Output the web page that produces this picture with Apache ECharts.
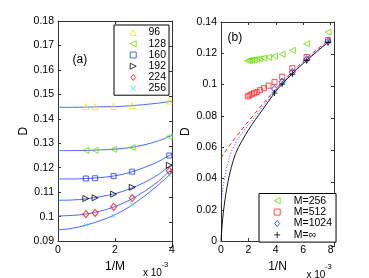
<!DOCTYPE html>
<html><head><meta charset="utf-8">
<script src="https://cdn.jsdelivr.net/npm/echarts@6/dist/echarts.min.js"></script>
<style>html,body{margin:0;padding:0;background:#fff}#c{width:369px;height:278px}</style>
</head><body><div id="c"></div>
<script>
// ---------- Panel (a): D vs 1/M (x 10^-3) ----------
const xInvM = [0.977, 1.302, 1.953, 2.604, 3.906];
const namesA = ['96', '128', '160', '192', '224', '256'];
const ptsN96  = [0.1450, 0.1450, 0.1451, 0.1455, 0.1473];
const ptsN128 = [0.1271, 0.1271, 0.1275, 0.1283, 0.1327];
const ptsN160 = [0.1156, 0.1157, 0.1166, 0.1184, 0.1250];
const ptsN192 = [0.1074, 0.1077, 0.1092, 0.1120, 0.1210];
const ptsN224 = [0.1010, 0.1015, 0.1040, 0.1076, 0.1187];
const ptsN256 = [0.0966, null,   0.1003, 0.1049, 0.1170];
const fitX = [0, 0.5, 1, 1.5, 2, 2.5, 3, 3.5, 4];
const fitN96  = [0.1447, 0.1447, 0.1448, 0.1449, 0.1450, 0.1453, 0.1458, 0.1464, 0.1472];
const fitN128 = [0.1270, 0.1270, 0.1271, 0.1273, 0.1276, 0.1282, 0.1293, 0.1309, 0.1332];
const fitN160 = [0.1154, 0.1154, 0.1156, 0.1160, 0.1167, 0.1180, 0.1200, 0.1224, 0.1257];
const fitN192 = [0.1067, 0.1068, 0.1073, 0.1082, 0.1094, 0.1113, 0.1138, 0.1171, 0.1215];
const fitN224 = [0.1003, 0.1005, 0.1011, 0.1023, 0.1041, 0.1067, 0.1101, 0.1143, 0.1195];
const fitN256 = [0.0946, 0.0952, 0.0966, 0.0984, 0.1008, 0.1040, 0.1081, 0.1128, 0.1180];
const yTicksA = {min: 0.09, max: 0.18, interval: 0.01};
const xTicksA = {min: 0, max: 4, interval: 2};

// ---------- Panel (b): D vs 1/N (x 10^-3) ----------
const xInvN = [7.8125, 6.25, 5.2083, 4.4643, 3.9063, 3.4722, 3.125, 2.8409, 2.6042, 2.4038, 2.2321, 2.0833, 1.9531];
const dM256 = [0.1335, 0.1261, 0.1219, 0.1194, 0.1182, 0.1175, 0.1170, 0.1165, 0.1162, 0.1159, 0.1156, 0.1154, 0.1152];
const dM512 = [0.1285, 0.1176, 0.1105, 0.1050, 0.1016, 0.0993, 0.0977, 0.0964, 0.0953, 0.0945, 0.0938, 0.0931, 0.0925];
const xInvNLarge = [7.8125, 6.25, 5.2083, 4.4643, 3.9063];
const dM1024 = [0.1276, 0.1161, 0.1080, 0.1018, 0.0972];
const dMinf  = [0.1270, 0.1154, 0.1067, 0.1003, 0.0946];
const curveInfX = [0, 0.02, 0.08, 0.17, 0.3, 0.49, 0.75, 1.07, 1.5, 2.0, 2.5, 3.0, 3.91, 4.46, 5.21, 6.25, 7.81, 8.0];
const curveInfD = [0, 0.003, 0.010, 0.018, 0.027, 0.037, 0.047, 0.056, 0.0635, 0.071, 0.0775, 0.0835, 0.0947, 0.1003, 0.1070, 0.1155, 0.1270, 0.1282];
const curve1024X = [0, 0.1, 0.25, 0.5, 0.8, 1.2, 1.7, 2.3, 3.0, 3.91, 4.46, 5.21, 6.25, 7.81, 8.0];
const curve1024D = [0.022, 0.031, 0.040, 0.050, 0.058, 0.0645, 0.0710, 0.0775, 0.0855, 0.0955, 0.1010, 0.1075, 0.1160, 0.1275, 0.1286];
const curve512X = [0, 0.3, 0.7, 1.0, 1.5, 2.0, 2.8, 3.91, 4.46, 5.21, 6.25, 7.81, 8.0];
const curve512D = [0.053, 0.057, 0.062, 0.0655, 0.0710, 0.0765, 0.0850, 0.0962, 0.1015, 0.1082, 0.1168, 0.1283, 0.1295];
const namesB = ['M=256', 'M=512', 'M=1024', 'M=\u221e'];
const yTicksB = {min: 0, max: 0.14, interval: 0.02};
const xTicksB = {min: 0, max: 8.25, interval: 2};

const FONT = '"Liberation Sans", Arial, Helvetica, sans-serif';
const AX = '#333';
const pair = (xs, ys) => xs.map((x, i) => [x, ys[i]]).filter(p => p[1] !== null);

function axis(opts, pos, gridIndex, showLabel, extra) {
  return Object.assign({
    type: 'value', gridIndex, position: pos,
    min: opts.min, max: opts.max, interval: opts.interval,
    axisLine: {show: true, onZero: false, lineStyle: {color: AX, width: 1}},
    axisTick: {show: true, inside: true, length: 3, lineStyle: {color: AX}},
    splitLine: {show: false},
    axisLabel: {show: showLabel, color: '#000', fontFamily: FONT, fontSize: 10.5, margin: 4},
  }, extra || {});
}

const CLEAR = 'rgba(0,0,0,0)';
const XSYM = 'path://M0 0L10 10M10 0L0 10';
const PSYM = 'path://M5 0L5 10M0 5L10 5';
const TRI_U = 'path://M5 0L10 10L0 10Z';
const TRI_L = 'path://M0 5L10 0L10 10Z';
const TRI_R = 'path://M10 5L0 0L0 10Z';
const SQR = 'path://M0 0L10 0L10 10L0 10Z';
const DIA = 'path://M5 0L10 6L5 12L0 6Z';

function sc(name, data, sym, size, color, xi, yi) {
  return {
    type: 'scatter', name, data, symbol: sym, symbolSize: size,
    xAxisIndex: xi, yAxisIndex: yi, z: 3,
    itemStyle: {color: CLEAR, borderColor: color, borderWidth: 1},
    emphasis: {disabled: true}, silent: true
  };
}
function ln(name, data, color, type, width, xi, yi) {
  return {
    type: 'line', name, data, smooth: 0.35, showSymbol: false, symbol: 'none',
    xAxisIndex: xi, yAxisIndex: yi, z: 2, clip: true,
    lineStyle: {color, width, type}, emphasis: {disabled: true}, silent: true
  };
}

const colA = ['#eeee00', '#66dd00', '#1a3cff', '#000000', '#ff0000', '#33dddd'];
const ptsA = [ptsN96, ptsN128, ptsN160, ptsN192, ptsN224, ptsN256];
const fitA = [fitN96, fitN128, fitN160, fitN192, fitN224, fitN256];
const symA = [[TRI_U, 6], [TRI_L, 6], [SQR, 5], [TRI_R, 6], [DIA, [6, 7]], [XSYM, 4]];

const colB = ['#66dd00', '#ff2020', '#1a3cff', '#000000'];
const symB = [[TRI_L, 6], [SQR, 5], [DIA, [6, 7]], [PSYM, 6]];

const series = [];
fitA.forEach((f, i) => series.push(ln('fit' + namesA[i], pair(fitX, f), '#4a66ff', 'solid', 1, 0, 0)));
ptsA.forEach((p, i) => series.push(sc(namesA[i], pair(xInvM, p), symA[i][0], symA[i][1], colA[i], 0, 0)));

series.push(ln('cInf', pair(curveInfX, curveInfD), '#000', 'solid', 0.9, 2, 2));
series.push(ln('c1024', pair(curve1024X, curve1024D), '#3344ff', [1, 2], 1, 2, 2));
series.push(ln('c512', pair(curve512X, curve512D), '#ff2020', [4, 3], 1, 2, 2));
series.push(sc(namesB[0], pair(xInvN, dM256), symB[0][0], symB[0][1], colB[0], 2, 2));
series.push(sc(namesB[1], pair(xInvN, dM512), symB[1][0], symB[1][1], colB[1], 2, 2));
series.push(sc(namesB[2], pair(xInvNLarge, dM1024), symB[2][0], symB[2][1], colB[2], 2, 2));
series.push(sc(namesB[3], pair(xInvNLarge, dMinf), symB[3][0], symB[3][1], colB[3], 2, 2));

const gA = {left: 58, top: 21, width: 114, height: 226};
const gB = {left: 221, top: 22, width: 113, height: 224.7};

const legendCommon = {
  orient: 'vertical', itemWidth: 6, itemHeight: 6, itemGap: 0,
  backgroundColor: '#fff', borderColor: '#000', borderWidth: 1, borderRadius: 0,
  selectedMode: false, inactiveColor: '#000'
};
const legItems = (names, syms, cols) => names.map((n, i) => ({
  name: n, icon: syms[i][0],
  itemStyle: {color: CLEAR, borderColor: cols[i], borderWidth: 1}
}));

const option = {
  animation: false,
  backgroundColor: '#fff',
  grid: [
    Object.assign({}, gA, {containLabel: false}),
    Object.assign({}, gA, {containLabel: false}),
    Object.assign({}, gB, {containLabel: false}),
    Object.assign({}, gB, {containLabel: false})
  ],
  xAxis: [
    axis(xTicksA, 'bottom', 0, true, {name: '1/M', nameLocation: 'middle', nameGap: 14,
      nameTextStyle: {fontFamily: FONT, fontSize: 12, color: '#000'}}),
    axis(xTicksA, 'top', 1, false),
    axis(xTicksB, 'bottom', 2, true, {name: '1/N', nameLocation: 'middle', nameGap: 14,
      nameTextStyle: {fontFamily: FONT, fontSize: 12, color: '#000'},
      axisLabel: {show: true, color: '#000', fontFamily: FONT, fontSize: 10.5, margin: 4,
        formatter: v => (Math.abs(v % 2) < 1e-9 ? String(v) : '')}}),
    axis(xTicksB, 'top', 3, false)
  ],
  yAxis: [
    axis(yTicksA, 'left', 0, true, {name: 'D', nameLocation: 'middle', nameGap: 28, nameRotate: 90,
      nameTextStyle: {fontFamily: FONT, fontSize: 12, color: '#000'}}),
    axis(yTicksA, 'right', 1, false),
    axis(yTicksB, 'left', 2, true, {name: 'D', nameLocation: 'middle', nameGap: 29, nameRotate: 90,
      nameTextStyle: {fontFamily: FONT, fontSize: 12, color: '#000'}}),
    axis(yTicksB, 'right', 3, false)
  ],
  legend: [
    Object.assign({}, legendCommon, {data: legItems(namesA, symA, colA), left: 114, top: 25, padding: [2, 3, 1, 15.7],
      textStyle: {fontFamily: FONT, fontSize: 10.5, color: '#000', lineHeight: 11.2, padding: [0, 0, 0, 7.3]}}),
    Object.assign({}, legendCommon, {data: legItems(namesB, symB, colB), left: 259, top: 193.5, padding: [1.5, 4, 1.5, 14.7],
      textStyle: {fontFamily: FONT, fontSize: 10.5, color: '#000', lineHeight: 11.4, padding: [0, 0, 0, 8.6]}})
  ],
  graphic: [
    {type: 'text', left: 72.5, top: 53.5, style: {text: '(a)', font: '12px ' + FONT, fill: '#000'}},
    {type: 'text', left: 227.5, top: 32, style: {text: '(b)', font: '12px ' + FONT, fill: '#000'}},
    {type: 'text', left: 143, top: 268.5, style: {text: 'x 10', font: '10px ' + FONT, fill: '#000'}},
    {type: 'text', left: 161.5, top: 261, style: {text: '-3', font: '7.5px ' + FONT, fill: '#000'}},
    {type: 'text', left: 306.5, top: 270, style: {text: 'x 10', font: '10px ' + FONT, fill: '#000'}},
    {type: 'text', left: 325, top: 262.5, style: {text: '-3', font: '7.5px ' + FONT, fill: '#000'}}
  ],
  series
};

const chart = echarts.init(document.getElementById('c'), null, {renderer: 'canvas', width: 369, height: 278});
chart.setOption(option);
</script>
</body></html>
